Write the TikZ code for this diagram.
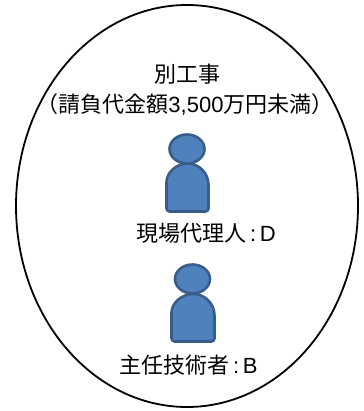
\documentclass[tikz,border=0pt]{standalone}
\usepackage{fontspec}
\usepackage{xcolor}
\usepackage{tikz}
\newfontfamily\jpfont{Noto Sans CJK JP}
\newfontfamily\latinfont{Liberation Sans}
\definecolor{personfill}{HTML}{4F81BD}
\definecolor{personline}{HTML}{385D8A}

\begin{document}
\begin{tikzpicture}[x=1pt,y=-1pt,
		label/.style={inner sep=0pt,font=\jpfont\fontsize{22}{24}\selectfont},
		person/.style={fill=personfill,draw=personline,line width=2.6pt,line join=round}]
		\useasboundingbox (0,0) rectangle (363,411);
		% outer ellipse
		\draw[line width=1.8pt] (187,206) ellipse [x radius=171, y radius=201];
		%
		\node[label] (title) at (187.5,74) {別工事};
		\node[label] (amount) at (185,104) {（請負代金額{\latinfont 3,500}万円未満）};
		% first person
		\draw[person] (187,149) ellipse [x radius=17.5, y radius=14.5];
		\draw[person,rounded corners=3pt] (166.5,211.5) -- (166.5,185)
			[sharp corners] arc[start angle=180, end angle=360, x radius=21, y radius=21.5]
			[rounded corners=3pt] -- (208.5,211.5) -- cycle;
		\node[label] (agent) at (206,233) {現場代理人{\latinfont\,:\,D}};
		% second person
		\draw[person] (192.5,279) ellipse [x radius=17.5, y radius=14.5];
		\draw[person,rounded corners=3pt] (171.5,341.5) -- (171.5,315.5)
			[sharp corners] arc[start angle=180, end angle=360, x radius=21.5, y radius=21.5]
			[rounded corners=3pt] -- (214.5,341.5) -- cycle;
		\node[label] (engineer) at (188.5,365) {主任技術者{\latinfont\,:\,B}};
	\end{tikzpicture}
\end{document}
